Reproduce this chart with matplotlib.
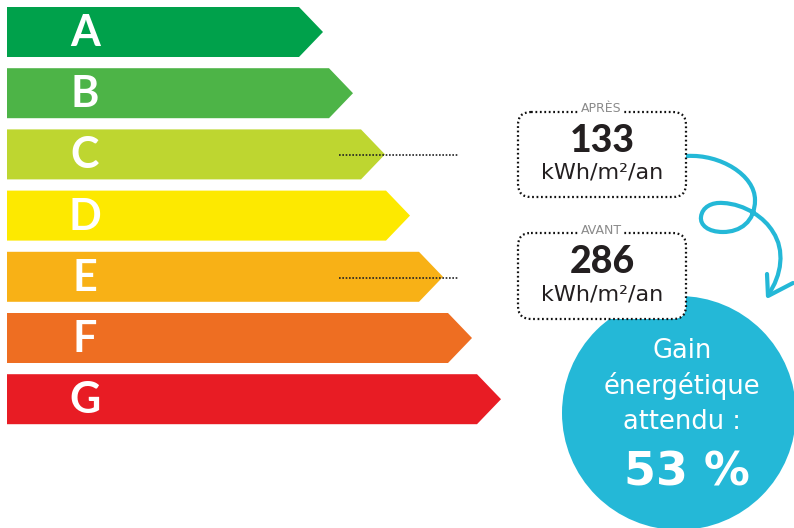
import numpy as np
import matplotlib.pyplot as plt
from matplotlib.patches import Polygon, FancyBboxPatch, Circle, PathPatch
from matplotlib.path import Path

# energy classes and the x where each arrow tip ends
classes = ['A', 'B', 'C', 'D', 'E', 'F', 'G']
tip_ends = [323, 353, 385, 410, 443, 472, 501]
class_colors = ['#00a14b', '#4db447', '#bed630', '#fde900', '#f8b116', '#ee6e22', '#e81c24']

# before / after consumption (kWh/m²/an) and the class they fall in
after_value = 133
after_class = 'C'
before_value = 286
before_class = 'E'
gain_pct = 53

fig = plt.figure(figsize=(7.94, 5.28), dpi=100)
ax = fig.add_axes([0, 0, 1, 1])
ax.set_xlim(0, 794)
ax.set_ylim(528, 0)
ax.axis('off')

bar_left = 7
bar_h = 50
pitch = 61.2
tip_len = 24


def row_center(cls):
    i = classes.index(cls)
    return 7 + i * pitch + bar_h / 2


for i, (cls, end, col) in enumerate(zip(classes, tip_ends, class_colors)):
    top = 7 + i * pitch
    bot = top + bar_h
    mid = top + bar_h / 2
    pts = [(bar_left, top), (end - tip_len, top), (end, mid),
           (end - tip_len, bot), (bar_left, bot)]
    ax.add_patch(Polygon(pts, closed=True, facecolor=col, edgecolor='none', zorder=1))
    ax.text(85, mid + 1, cls, color='white', fontsize=31, fontweight='bold',
            family='Lato', ha='center', va='center', zorder=2)

# dotted leader lines
for cls in [after_class, before_class]:
    y = row_center(cls) + 1
    ax.plot([339, 458], [y, y], color='#222222', lw=1.2, ls=(0, (1, 1)), zorder=3)

# blue circle
ax.add_patch(Circle((679, 413), 117, facecolor='#24b8d7', edgecolor='none', zorder=4))
for txt, y in [('Gain', 351), ('énergétique', 386), ('attendu :', 422)]:
    ax.text(682, y, txt, color='white', fontsize=18.5, family='DejaVu Sans',
            ha='center', va='center', zorder=6)
ax.text(687, 473, f'{gain_pct} %', color='white', fontsize=33, fontweight='bold',
        family='DejaVu Sans', ha='center', va='center', zorder=6)

# value boxes
boxes = [('APRÈS', after_value, 112, 197), ('AVANT', before_value, 233, 319)]
for label, val, top, bot in boxes:
    box = FancyBboxPatch((518, top), 168, bot - top,
                         boxstyle='round,pad=0,rounding_size=13',
                         facecolor='white', edgecolor='#111111', lw=1.6,
                         ls=(0, (0.8, 1.2)), zorder=7)
    ax.add_patch(box)
    ax.text(601, top - 3, label, color='#8a8a8a', fontsize=9, family='DejaVu Sans',
            ha='center', va='center', zorder=8,
            bbox=dict(facecolor='white', edgecolor='none', pad=1.5))
    ax.text(602, top + 29, str(val), color='#231f20', fontsize=27, fontweight='black',
            family='Lato', ha='center', va='center', zorder=8)
    ax.text(602, top + 61, 'kWh/m²/an', color='#231f20', fontsize=16, family='DejaVu Sans',
            ha='center', va='center', zorder=8)

# curly arrow from the "après" box to the circle
verts = [(687, 156),
         (720, 154), (755, 175), (755, 200),
         (755, 222), (740, 232), (723, 232),
         (708, 232), (700, 225), (701, 217),
         (702, 207), (712, 202), (723, 203),
         (745, 204), (765, 218), (773, 232),
         (785, 250), (782, 275), (768, 295)]
codes = [Path.MOVETO] + [Path.CURVE4] * 18
ax.add_patch(PathPatch(Path(verts, codes), facecolor='none', edgecolor='#24b8d7',
                       lw=3, capstyle='round', zorder=5))
ax.plot([767, 768, 793], [274, 296, 283], color='#24b8d7', lw=3,
        solid_capstyle='round', solid_joinstyle='round', zorder=5)

fig.savefig('out.png', dpi=100)
